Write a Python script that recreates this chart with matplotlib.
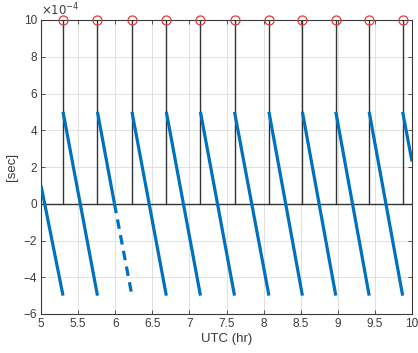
import matplotlib
matplotlib.use("Agg")
import matplotlib.pyplot as plt
import numpy as np

# ---- data (values in seconds) ----
stem_times = [5.297, 5.761, 6.226, 6.689, 7.149, 7.608, 8.072, 8.523, 8.973, 9.423, 9.874]
stem_values = [10e-4] * 11

# sawtooth segments (start time, end time, start value, end value, style)
seg_t0 = [5.0, 5.297, 5.761, 5.990, 6.226, 6.689, 7.149, 7.608, 8.072, 8.523, 8.973, 9.423, 9.874]
seg_t1 = [5.297, 5.761, 5.990, 6.226, 6.689, 7.149, 7.608, 8.072, 8.523, 8.973, 9.423, 9.874, 10.0]
seg_v0 = [1.0e-4, 5e-4, 5e-4, 0.0, 5e-4, 5e-4, 5e-4, 5e-4, 5e-4, 5e-4, 5e-4, 5e-4, 5e-4]
seg_v1 = [-5e-4, -5e-4, 0.0, -5e-4, -5e-4, -5e-4, -5e-4, -5e-4, -5e-4, -5e-4, -5e-4, -5e-4, 2.3e-4]
seg_style = ["-", "-", "-", "--", "-", "-", "-", "-", "-", "-", "-", "-", "-"]

x_ticks = [5, 5.5, 6, 6.5, 7, 7.5, 8, 8.5, 9, 9.5, 10]
x_ticklabels = ["5", "5.5", "6", "6.5", "7", "7.5", "8", "8.5", "9", "9.5", "10"]
y_ticks = [-6, -4, -2, 0, 2, 4, 6, 8, 10]
scale = 1e-4

plt.rcParams['font.family'] = ['Liberation Sans', 'DejaVu Sans']
axcol = '#3a3a3a'

fig = plt.figure(figsize=(4.18, 3.53), dpi=100)
ax = fig.add_axes([41/418, (353-314)/353, 371/418, 294/353])

# baseline
ax.axhline(0, color='#333333', lw=1.0, zorder=2)

# stems
for t, v in zip(stem_times, stem_values):
    ax.plot([t, t], [0, v / scale], color='#333333', lw=1.0, zorder=2)
ax.plot(stem_times, np.array(stem_values) / scale, 'o', mfc='none', mec='#e03a3a',
        ms=6.5, mew=0.9, zorder=4, clip_on=False)

# sawtooth
for t0, t1, v0, v1, ls in zip(seg_t0, seg_t1, seg_v0, seg_v1, seg_style):
    kw = dict(dashes=(3.0, 2.0)) if ls == "--" else {}
    ax.plot([t0, t1], [v0 / scale, v1 / scale], color='#0072BD', lw=2.3,
            solid_capstyle='butt', zorder=3, **kw)

ax.set_xlim(5, 10)
ax.set_ylim(-6, 10)
ax.set_xticks(x_ticks)
ax.set_xticklabels(x_ticklabels)
ax.set_yticks(y_ticks)
ax.grid(True, color='#dcdcdc', lw=0.6)
ax.set_axisbelow(True)
ax.tick_params(direction='in', top=True, right=True, length=3, width=0.6,
               colors=axcol, labelsize=8.5, pad=3)
for s in ax.spines.values():
    s.set_color(axcol)
    s.set_linewidth(0.8)

ax.set_xlabel("UTC (hr)", fontsize=9.5, color=axcol, labelpad=2)
ax.set_ylabel("[sec]", fontsize=9.5, color=axcol, labelpad=4)
ax.text(0.0, 1.005, r"$\times10^{-4}$", transform=ax.transAxes, fontsize=8.5,
        color=axcol, ha='left', va='bottom')

fig.savefig("out.png", dpi=100)
